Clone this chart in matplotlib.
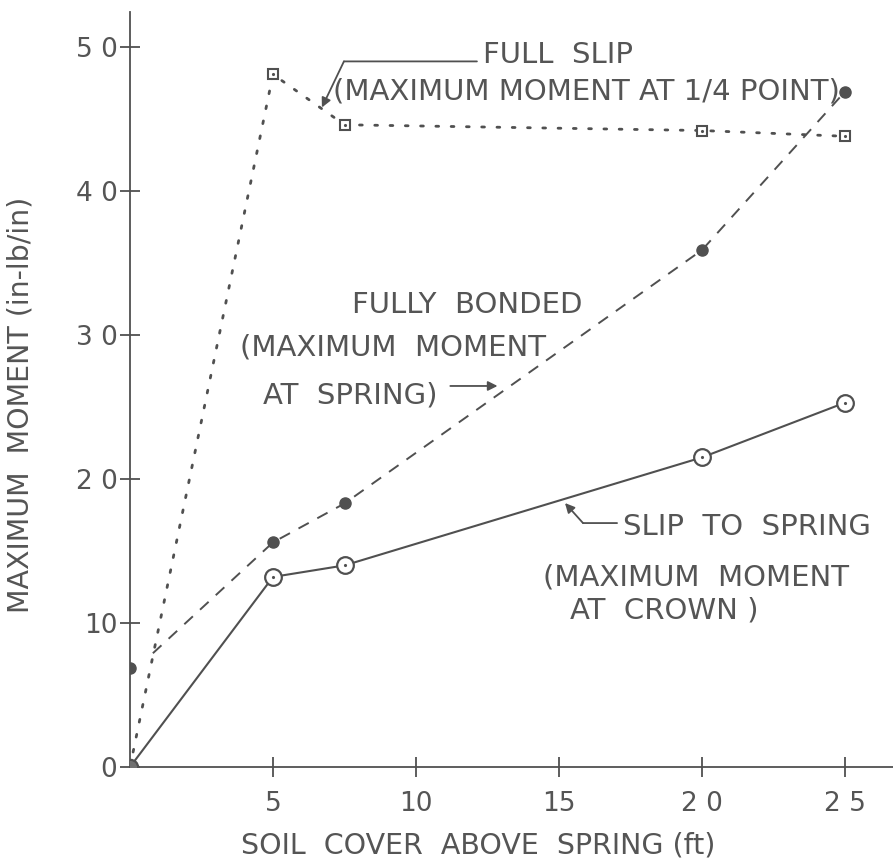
import matplotlib
matplotlib.use('Agg')
import matplotlib.pyplot as plt

# Moment maximum en fonction de la couverture de sol
ink = '#505050'
grey = '#555555'

# Slip to spring (cercles ouverts, trait plein)
cover_slip = [0, 5, 7.5, 20, 25]
moment_slip = [0, 13.2, 14.0, 21.5, 25.3]

# Fully bonded (cercles pleins, tirets)
cover_bond = [0, 5, 7.5, 20, 25]
moment_bond = [6.9, 15.6, 18.3, 35.9, 46.9]
# départ du trait en tirets
cover_bond_line = [0.8, 5, 7.5, 20, 25]
moment_bond_line = [7.9, 15.6, 18.3, 35.9, 46.9]

# Full slip (carrés, pointillés)
cover_full = [0, 5, 7.5, 20, 25]
moment_full = [0, 48.1, 44.6, 44.2, 43.8]

xticks = [5, 10, 15, 20, 25]
xticklabels = ['5', '10', '15', '2 0', '2 5']
yticks = [0, 10, 20, 30, 40, 50]
yticklabels = ['0', '10', '2 0', '3 0', '4 0', '5 0']

fig = plt.figure(figsize=(8.93, 8.67), dpi=100)
ax = fig.add_axes([130/893, 100/867, 763/893, 755/867])
ax.set_xlim(0, 763/28.6)
ax.set_ylim(0, 755/14.4)

# full slip
ax.plot(cover_full, moment_full, color=ink, lw=2.0, linestyle=(0, (1, 4.5)),
        dash_capstyle='round', zorder=2)
ax.plot(cover_full[1:], moment_full[1:], 's', ms=7, mfc='white', mec=ink, mew=1.5, zorder=4)
ax.plot(cover_full[1:], moment_full[1:], '.', ms=2.5, color=ink, zorder=5)

# fully bonded
ax.plot(cover_bond_line, moment_bond_line, color=ink, lw=1.4, linestyle=(0, (6, 5)), zorder=2)
ax.plot(cover_bond, moment_bond, 'o', ms=8, color=ink, zorder=4)

# slip to spring
ax.plot(cover_slip, moment_slip, color=ink, lw=1.5, zorder=3)
ax.plot(cover_slip[1:], moment_slip[1:], 'o', ms=12, mfc='white', mec=ink, mew=1.6, zorder=4)
ax.plot(cover_slip[1:], moment_slip[1:], '.', ms=2.5, color=ink, zorder=5)
ax.plot(cover_slip[0], moment_slip[0], 'o', ms=11, mfc='#707070', mec=ink, mew=1.6, zorder=5)

for s in ['top', 'right']:
    ax.spines[s].set_visible(False)
for s in ['left', 'bottom']:
    ax.spines[s].set_color(ink)
    ax.spines[s].set_linewidth(1.3)

ax.set_xticks(xticks)
ax.set_xticklabels(xticklabels)
ax.set_yticks(yticks)
ax.set_yticklabels(yticklabels)
ax.tick_params(direction='inout', length=14, width=1.3, color=ink,
               labelcolor=grey, labelsize=19)
ax.tick_params(axis='x', pad=10)
ax.tick_params(axis='y', pad=2)

ax.set_xlabel('SOIL  COVER  ABOVE  SPRING (ft)', fontsize=20.5, color=grey)
ax.xaxis.set_label_coords(0.456, -0.085)
ax.set_ylabel('MAXIMUM  MOMENT (in-lb/in)', fontsize=20.5, color=grey)
ax.yaxis.set_label_coords(-0.125, 0.479)

txt = dict(fontsize=21, color=grey, va='center', ha='left')
arrow = dict(arrowstyle='-|>', color=ink, lw=1.3, mutation_scale=14, shrinkA=0, shrinkB=0)
line = dict(arrowstyle='-', color=ink, lw=1.3, shrinkA=0, shrinkB=0)

# étiquette full slip
ax.text(12.34, 49.44, 'FULL  SLIP', **txt)
ax.text(7.1, 46.94, '(MAXIMUM MOMENT AT 1/4 POINT)', **txt)
ax.annotate('', xy=(7.48, 49.0), xytext=(12.13, 49.0), arrowprops=line)
ax.annotate('', xy=(6.71, 45.8), xytext=(7.48, 49.0), arrowprops=arrow)

# étiquette fully bonded
ax.text(7.76, 32.08, 'FULLY  BONDED', **txt)
ax.text(3.85, 29.1, '(MAXIMUM  MOMENT', **txt)
ax.text(4.65, 25.8, 'AT  SPRING)', **txt)
ax.annotate('', xy=(12.85, 26.46), xytext=(11.2, 26.46), arrowprops=arrow)

# étiquette slip to spring
ax.text(17.24, 16.67, 'SLIP  TO  SPRING', **txt)
ax.text(14.44, 13.19, '(MAXIMUM  MOMENT', **txt)
ax.text(15.38, 10.9, 'AT  CROWN )', **txt)
ax.annotate('', xy=(15.84, 16.94), xytext=(17.03, 16.94), arrowprops=line)
ax.annotate('', xy=(15.21, 18.33), xytext=(15.84, 16.94), arrowprops=arrow)

fig.savefig('out.png', dpi=100)
